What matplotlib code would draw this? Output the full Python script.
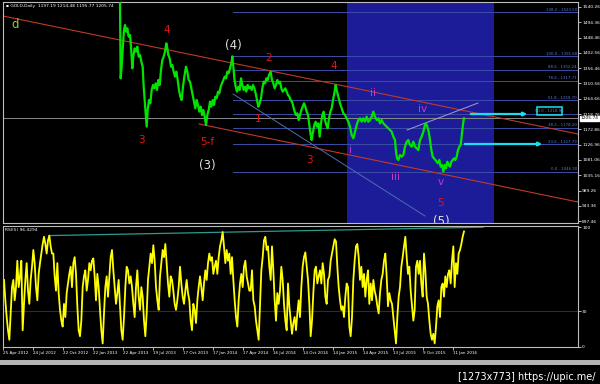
import matplotlib
matplotlib.use("Agg")
import matplotlib.pyplot as plt
import numpy as np
from matplotlib.patches import Rectangle

# time axis: calendar days counted from 25 Apr 2012
date_ticks = [0, 90, 180, 270, 360, 450, 540, 630, 720, 810, 900, 990, 1080, 1170, 1260, 1350]
date_labels = ["25 Apr 2012", "24 Jul 2012", "22 Oct 2012", "22 Jan 2013", "22 Apr 2013",
               "19 Jul 2013", "17 Oct 2013", "17 Jan 2014", "17 Apr 2014", "16 Jul 2014",
               "14 Oct 2014", "14 Jan 2015", "14 Apr 2015", "13 Jul 2015", "9 Oct 2015",
               "11 Jan 2016"]

price_ticks = [1540.26, 1494.36, 1448.46, 1402.56, 1356.46, 1310.56, 1264.66, 1218.76,
               1172.86, 1126.96, 1081.06, 1035.16, 989.26, 943.36, 897.46]
last_close = 1205.74

# gold daily close path, (day, price) pairs
price_pts = [
    (351, 1551), (352, 1441), (353, 1326), (356, 1361), (359, 1411), (363, 1471), (366, 1486),
    (370, 1466), (373, 1476), (377, 1451), (381, 1456), (384, 1421), (388, 1356), (391, 1391),
    (395, 1416), (399, 1406), (403, 1421), (407, 1391), (411, 1396), (415, 1376), (419, 1361),
    (422, 1301), (425, 1261), (428, 1221), (431, 1181), (434, 1231), (438, 1261), (442, 1251),
    (446, 1291), (450, 1306), (454, 1296), (458, 1311), (462, 1291), (466, 1321), (470, 1306),
    (474, 1351), (478, 1381), (482, 1391), (486, 1406), (490, 1431), (493, 1416), (496, 1396),
    (500, 1386), (504, 1361), (508, 1366), (512, 1346), (516, 1331), (520, 1346), (524, 1321),
    (528, 1291), (532, 1271), (536, 1261), (540, 1301), (544, 1331), (549, 1361), (553, 1346),
    (557, 1321), (561, 1316), (565, 1296), (569, 1276), (573, 1256), (577, 1236), (581, 1261),
    (585, 1246), (589, 1226), (593, 1241), (597, 1216), (601, 1231), (605, 1211), (609, 1186),
    (613, 1216), (617, 1231), (621, 1256), (625, 1241), (629, 1261), (633, 1246), (637, 1271),
    (641, 1266), (645, 1286), (649, 1281), (653, 1301), (657, 1311), (661, 1321), (665, 1331),
    (669, 1326), (673, 1346), (677, 1341), (681, 1356), (685, 1371), (688, 1392), (691, 1361),
    (694, 1326), (698, 1301), (702, 1286), (706, 1301), (710, 1291), (714, 1326), (718, 1306),
    (722, 1291), (726, 1301), (730, 1286), (734, 1306), (738, 1296), (742, 1301), (746, 1291),
    (750, 1306), (754, 1296), (758, 1281), (762, 1261), (766, 1241), (770, 1251), (774, 1266),
    (778, 1296), (782, 1316), (786, 1311), (790, 1326), (794, 1321), (798, 1336), (803, 1346),
    (807, 1321), (811, 1311), (815, 1296), (819, 1306), (823, 1321), (827, 1311), (831, 1316),
    (835, 1296), (839, 1286), (843, 1291), (847, 1296), (851, 1286), (855, 1276), (859, 1271),
    (863, 1261), (867, 1256), (871, 1241), (875, 1226), (879, 1216), (883, 1221), (887, 1201),
    (891, 1216), (895, 1231), (899, 1241), (903, 1251), (907, 1241), (911, 1226), (915, 1216),
    (919, 1186), (923, 1156), (926, 1141), (930, 1166), (934, 1186), (938, 1196), (942, 1181),
    (946, 1191), (950, 1151), (954, 1191), (958, 1216), (962, 1226), (966, 1201), (970, 1186),
    (974, 1176), (978, 1206), (982, 1226), (986, 1236), (990, 1261), (994, 1281), (998, 1306),
    (1001, 1291), (1006, 1271), (1011, 1251), (1016, 1236), (1021, 1221), (1026, 1216),
    (1031, 1206), (1036, 1196), (1041, 1181), (1046, 1156), (1051, 1146), (1056, 1166),
    (1061, 1186), (1066, 1201), (1071, 1206), (1076, 1196), (1081, 1206), (1086, 1196),
    (1091, 1211), (1096, 1196), (1101, 1201), (1106, 1211), (1111, 1226), (1116, 1211),
    (1121, 1201), (1126, 1206), (1131, 1191), (1136, 1201), (1141, 1191), (1146, 1186),
    (1151, 1181), (1156, 1176), (1161, 1171), (1166, 1166), (1171, 1151), (1176, 1141),
    (1179, 1106), (1182, 1086), (1186, 1081), (1191, 1096), (1196, 1091), (1201, 1096),
    (1206, 1121), (1211, 1136), (1216, 1141), (1221, 1126), (1226, 1121), (1231, 1136),
    (1236, 1121), (1241, 1116), (1246, 1111), (1251, 1141), (1256, 1151), (1261, 1166),
    (1266, 1186), (1269, 1191), (1273, 1181), (1277, 1166), (1281, 1141), (1285, 1111),
    (1289, 1091), (1293, 1086), (1297, 1081), (1301, 1076), (1305, 1071), (1309, 1081),
    (1313, 1061), (1317, 1066), (1321, 1046), (1325, 1066), (1329, 1056), (1333, 1076),
    (1337, 1066), (1341, 1061), (1345, 1076), (1349, 1081), (1353, 1086), (1357, 1081),
    (1361, 1091), (1365, 1111), (1369, 1121), (1373, 1126), (1377, 1161), (1381, 1196),
    (1383, 1206),
]
price_day = [d for d, _ in price_pts]
price_val = [p for _, p in price_pts]

rsi_part1 = [56, 39, 25, 14, 6, 28, 50, 56, 39, 50, 72, 50, 59, 72, 14, 36, 56, 70, 47, 36,
             56, 67, 81, 70, 50, 39, 61, 70, 78, 86, 92, 86, 78, 89, 93, 84, 78, 78, 59, 47,
             70, 45, 31, 22, 17, 36, 25, 45, 53, 61, 67, 50, 70, 75, 61, 34, 14, 9, 22, 50,
             59, 64, 47, 56, 70, 64, 72, 74, 59, 39, 61, 50, 31, 14, 3, 28, 50, 59, 42, 59,
             75, 81, 64, 50, 36, 45, 56, 34, 14, 6, 25, 50, 67, 64, 53, 59, 50, 36, 25, 50,
             64, 42, 31, 50, 42, 22, 9, 28, 56, 67, 78, 70, 85, 72, 50, 39, 31, 59, 70, 81,
             75, 86, 70, 53, 42, 59, 56, 47, 36, 31, 39, 50, 67, 53, 42, 36, 47, 56, 45, 39,
             22, 14, 36, 31, 20, 39, 50, 59, 50, 39, 53, 64, 56, 70, 78, 72, 75, 61, 67, 72,
             61, 75, 84, 89, 96, 84, 70, 81, 72, 78, 61, 75, 56, 39, 25, 17, 39, 53, 61, 50,
             67, 72, 59, 53, 47]
rsi_part2 = [47, 64, 39, 34, 22, 14, 6, 36, 64, 75, 89, 92, 81, 84, 67, 56, 84, 64, 39, 22,
             45, 36, 47, 67, 56, 36, 22, 14, 53, 34, 22, 11, 20, 25, 14, 28, 39, 25, 50, 67,
             75, 79, 67, 56, 36, 9, 22, 45, 64, 67, 53, 59, 64, 53, 70, 61, 42, 36, 56, 59,
             72, 78, 84, 90, 88, 67, 50, 39, 31, 34, 25, 42, 53, 50, 17, 9, 25, 56, 72, 84,
             86, 75, 56, 67, 50, 61, 42, 56, 64, 36, 53, 39, 56, 47, 42, 34, 28, 45, 56, 61,
             72, 78, 59, 34, 45, 39, 36, 25, 14, 3, 25, 42, 50, 67, 75, 84, 92, 75, 61, 67,
             47, 34, 22, 31, 67, 72, 61, 72, 53, 42, 78, 64, 42, 36, 22, 11, 6, 11, 3, 17,
             34, 39, 25, 50, 53, 42, 59, 50, 61, 64, 53, 72, 84, 50, 70, 61, 78, 81, 86, 92,
             96.43]
rsi_val = rsi_part1 + rsi_part2
rsi_day = list(range(3, 740, 4))[:len(rsi_part1)] + list(range(743, 1384, 4))[:len(rsi_part2)]

fib_low, fib_high = 1046.30, 1391.60
fib_levels = [0.0, 23.6, 38.2, 50.0, 61.8, 78.6, 88.6, 100.0, 138.2]

# drawn lines on the chart: (day, price) end points
upper_channel = ([0, 1725], [1513, 1159])
lower_channel = ([588, 1725], [1189, 955])
blue_diag = ([690, 1266], [1279, 913])
iii_iv_line = ([1212, 1425], [1171, 1252])
rsi_trend = ([138, 1440], [93, 100])

wave_labels = [
    ("d", 36, 1486, "#9acd32", 8.5),
    ("4", 492, 1471, "#e01818", 7.5),
    ("3", 414, 1141, "#e01818", 7.5),
    ("(4)", 690, 1426, "#e0e0e0", 8.5),
    ("2", 798, 1387, "#e01818", 7.5),
    ("4", 993, 1363, "#e01818", 7.5),
    ("1", 765, 1204, "#e01818", 7.5),
    ("5-f", 612, 1135, "#e01818", 7.5),
    ("(3)", 612, 1066, "#e0e0e0", 8.5),
    ("3", 918, 1081, "#e01818", 7.5),
    ("ii", 1110, 1282, "#c838c8", 7.5),
    ("iv", 1260, 1234, "#c838c8", 7.5),
    ("i", 1044, 1111, "#c838c8", 7.5),
    ("iii", 1176, 1030, "#c838c8", 7.5),
    ("v", 1314, 1015, "#c838c8", 7.5),
    ("5", 1314, 952, "#e01818", 7.5),
    ("(5)", 1314, 897, "#e0e0e0", 8.5),
]


def style_axes(ax):
    ax.set_facecolor("black")
    for s in ax.spines.values():
        s.set_color("#bdbdbd")
        s.set_linewidth(0.8)
    ax.yaxis.tick_right()
    ax.tick_params(axis="y", colors="white", labelsize=3.2, length=2, width=0.5, pad=1)


fig = plt.figure(figsize=(6, 3.84), dpi=100, facecolor="black")
ax = fig.add_axes([3 / 600, 1 - 223 / 384, 575 / 600, 221 / 384])
ax_r = fig.add_axes([3 / 600, 1 - 347 / 384, 575 / 600, 121 / 384])
style_axes(ax)
style_axes(ax_r)

ax.set_xlim(0, 1725)
ax.set_ylim(892, 1555)
ax.set_xticks([])
ax.set_yticks(price_ticks)
ax.set_yticklabels([f"{p:.2f}" for p in price_ticks])

ax.add_patch(Rectangle((1033, 892), 440, 663, facecolor="#1c1c98", edgecolor="none", zorder=0))

for lvl in fib_levels:
    p = fib_low + (fib_high - fib_low) * lvl / 100.0
    ax.plot([690, 1725], [p, p], color="#3c4ca8", lw=0.7, zorder=1)
    label = f"{lvl:.1f} - {p:.2f}"
    if lvl == 50.0:
        ax.text(1640, p + 2, label, color="#5b76d8", fontsize=2.8, ha="center", va="bottom", zorder=4)
    else:
        ax.text(1722, p + 2, label, color="#5b76d8", fontsize=2.8, ha="right", va="bottom", zorder=4)

ax.axhline(last_close, color="#8a8a8a", lw=0.7, zorder=1)
ax.plot(*upper_channel, color="#c03a26", lw=0.8, zorder=2)
ax.plot(*lower_channel, color="#c03a26", lw=0.8, zorder=2)
ax.plot(*blue_diag, color="#4a6fb0", lw=0.7, zorder=2)
ax.plot(*iii_iv_line, color="#a89ad0", lw=0.7, zorder=2)

ax.plot(price_day, price_val, color="#00e400", lw=1.6, zorder=3)

ax.annotate("", xy=(1581, 1219), xytext=(1395, 1219),
            arrowprops=dict(arrowstyle="-|>", color="#19e0f0", lw=1.6, mutation_scale=5), zorder=4)
ax.annotate("", xy=(1626, 1129), xytext=(1377, 1129),
            arrowprops=dict(arrowstyle="-|>", color="#19e0f0", lw=1.6, mutation_scale=5), zorder=4)
ax.add_patch(Rectangle((1602, 1216), 75, 24, facecolor="none", edgecolor="#19e0f0", lw=1.1, zorder=4))

for txt, d, p, c, fs in wave_labels:
    ax.text(d, p, txt, color=c, fontsize=fs, ha="center", va="center", zorder=5, clip_on=True)

ax.text(0.006, 0.99, "\u25aa GOLD,Daily  1197.19 1214.48 1195.77 1205.74", transform=ax.transAxes,
        color="white", fontsize=3.2, ha="left", va="top")
ax.text(1.004, last_close, f"{last_close:.2f}", transform=ax.get_yaxis_transform(),
        color="black", fontsize=3.2, ha="left", va="center",
        bbox=dict(boxstyle="square,pad=0.15", facecolor="white", edgecolor="white"))

# RSI pane
ax_r.set_xlim(0, 1725)
ax_r.set_ylim(0, 101)
ax_r.set_yticks([100, 30, 0])
ax_r.set_yticklabels(["100", "30", "0"])
ax_r.axhline(30, color="#2a2a44", lw=0.8)
ax_r.plot(*rsi_trend, color="#2c9a8e", lw=0.9)
ax_r.plot(rsi_day, rsi_val, color="#ffff00", lw=1.3)
ax_r.set_xticks(date_ticks)
ax_r.set_xticklabels(date_labels, ha="left")
ax_r.tick_params(axis="x", colors="white", labelsize=3.0, length=2, width=0.5, pad=1)
ax_r.text(0.004, 0.985, "RSI(5) 96.4294", transform=ax_r.transAxes, color="white",
          fontsize=3.2, ha="left", va="top")

# terminal tab strip and watermark
fig.patches.append(Rectangle((0, 1 - 365 / 384), 1, 5 / 384, transform=fig.transFigure,
                             facecolor="#b4b4b4", edgecolor="none"))
fig.text(596 / 600, 1 - 377 / 384, "[1273x773] https://upic.me/", color="white",
         fontsize=7, ha="right", va="center")

fig.savefig("out.png", dpi=100, facecolor="black")
